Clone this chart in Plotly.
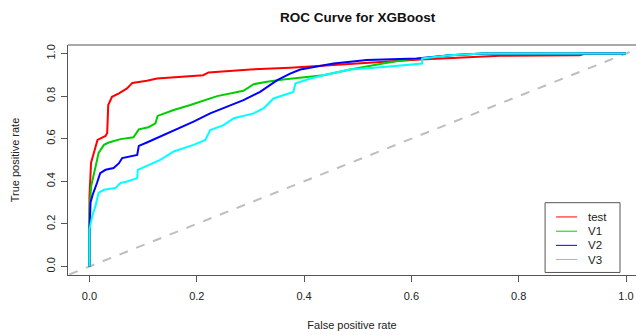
import plotly.graph_objects as go

# ROC curves (FPR, TPR)
test_fpr = [0, 0, 0.003, 0.008, 0.013, 0.015, 0.030, 0.033, 0.035, 0.042, 0.055, 0.070, 0.080, 0.107, 0.126,
            0.212, 0.222, 0.300, 0.374, 0.449, 0.616, 0.765, 0.914, 0.924, 1.0]
test_tpr = [0, 0.328, 0.487, 0.533, 0.580, 0.594, 0.613, 0.627, 0.758, 0.797, 0.813, 0.836, 0.862, 0.872, 0.883,
            0.898, 0.911, 0.925, 0.933, 0.945, 0.972, 0.989, 0.992, 1.0, 1.0]

v1_fpr = [0, 0, 0.003, 0.008, 0.013, 0.017, 0.027, 0.036, 0.058, 0.082, 0.092, 0.110, 0.123, 0.127, 0.157,
          0.188, 0.219, 0.238, 0.287, 0.306, 0.331, 0.361, 0.436, 0.486, 0.547, 0.592, 0.620, 0.672, 0.734, 1.0]
v1_tpr = [0, 0.253, 0.376, 0.440, 0.487, 0.533, 0.571, 0.582, 0.598, 0.607, 0.644, 0.654, 0.672, 0.707, 0.735,
          0.758, 0.785, 0.800, 0.825, 0.856, 0.867, 0.878, 0.898, 0.925, 0.953, 0.972, 0.977, 0.992, 1.0, 1.0]

v2_fpr = [0, 0, 0.002, 0.006, 0.014, 0.020, 0.030, 0.045, 0.055, 0.061, 0.089, 0.092, 0.107, 0.132, 0.157,
          0.194, 0.225, 0.256, 0.287, 0.318, 0.350, 0.374, 0.393, 0.455, 0.517, 0.610, 0.672, 0.734, 1.0]
v2_tpr = [0, 0.159, 0.300, 0.337, 0.392, 0.438, 0.454, 0.462, 0.485, 0.509, 0.524, 0.566, 0.582, 0.610, 0.641,
          0.680, 0.719, 0.750, 0.781, 0.820, 0.875, 0.906, 0.925, 0.953, 0.969, 0.977, 0.992, 1.0, 1.0]

v3_fpr = [0, 0, 0.005, 0.011, 0.017, 0.027, 0.048, 0.058, 0.070, 0.089, 0.090, 0.107, 0.132, 0.157, 0.194,
          0.216, 0.225, 0.250, 0.269, 0.306, 0.325, 0.343, 0.368, 0.380, 0.384, 0.412, 0.436, 0.486, 0.548,
          0.620, 0.620, 0.672, 0.734, 1.0]
v3_tpr = [0, 0.173, 0.235, 0.282, 0.345, 0.360, 0.368, 0.392, 0.399, 0.415, 0.454, 0.473, 0.501, 0.540, 0.571,
          0.594, 0.641, 0.664, 0.696, 0.719, 0.743, 0.789, 0.810, 0.820, 0.860, 0.883, 0.898, 0.925, 0.937,
          0.953, 0.977, 0.992, 1.0, 1.0]

series_names = ["test", "V1", "V2", "V3"]
series_colors = ["#FF0000", "#00CD00", "#0000FF", "#00FFFF"]
x_ticks = [0, 0.2, 0.4, 0.6, 0.8, 1.0]
y_ticks = [0, 0.2, 0.4, 0.6, 0.8, 1.0]

W, H = 636, 335
FONT = "Liberation Sans, Arial, sans-serif"
AX = "#555555"

left, top, bottom = 67.5, 44.8, 275.5
x0_px, x_scale = 89.0, 537.0
y0_px, y_scale = 267.0, 213.7
x_max = (W - x0_px) / x_scale


def px_x(p):
    return (p - x0_px) / x_scale


def px_y(p):
    return (y0_px - p) / y_scale


fig = go.Figure()

# diagonal reference line
fig.add_trace(go.Scatter(x=[-0.1, 1.1], y=[-0.1, 1.1], mode="lines",
                         line=dict(color="#BEBEBE", width=2, dash="dash"),
                         showlegend=False, hoverinfo="skip"))

data = [(test_fpr, test_tpr), (v1_fpr, v1_tpr), (v2_fpr, v2_tpr), (v3_fpr, v3_tpr)]
for (fx, ty), name, col in zip(data, series_names, series_colors):
    fig.add_trace(go.Scatter(x=fx, y=ty, mode="lines", name=name,
                             line=dict(color=col, width=2), showlegend=False))

# hand-drawn legend box (bottom right, like R's legend())
shapes = [dict(type="line", xref="paper", yref="paper", x0=0, x1=1, y0=1, y1=1,
               line=dict(color=AX, width=1)),
          dict(type="rect", xref="x", yref="y", x0=px_x(545), x1=px_x(620), y0=px_y(203), y1=px_y(273),
               line=dict(color=AX, width=1), fillcolor="white", layer="above")]
annotations = []
row_y = [217.3, 231.6, 245.8, 260.0]
for name, col, ry in zip(series_names, series_colors, row_y):
    shapes.append(dict(type="line", xref="x", yref="y", x0=px_x(556), x1=px_x(577), y0=px_y(ry), y1=px_y(ry),
                       line=dict(color=col, width=1), layer="above"))
    annotations.append(dict(text=name, xref="x", yref="y", x=px_x(586), y=px_y(ry), xanchor="left",
                            yanchor="middle", showarrow=False, font=dict(size=11.5, color="#222222")))

fig.update_layout(
    width=W, height=H,
    margin=dict(l=left, r=0, t=top, b=H - bottom, autoexpand=False),
    plot_bgcolor="white", paper_bgcolor="white",
    font=dict(family=FONT, size=11, color="#222222"),
    showlegend=False,
    title=dict(text="<b>ROC Curve for XGBoost</b>", x=357.7 / W, xref="container", xanchor="center",
               y=1 - 17.5 / H, yref="container", yanchor="middle",
               font=dict(family=FONT, size=13.5, color="#111111")),
    xaxis=dict(range=[-0.04, x_max], tickvals=x_ticks, tickformat=".1f", automargin=False,
               showgrid=False, zeroline=False, showline=True, linecolor=AX, linewidth=1,
               ticks="outside", ticklen=6, tickcolor=AX, tickwidth=1, ticklabelstandoff=5,
               title=dict(text="False positive rate", standoff=20, font=dict(size=11))),
    yaxis=dict(range=[-0.04, 1.04], tickvals=y_ticks, tickformat=".1f", tickangle=-90, automargin=False,
               showgrid=False, zeroline=False, showline=True, linecolor=AX, linewidth=1,
               ticks="outside", ticklen=6, tickcolor=AX, tickwidth=1, ticklabelstandoff=2,
               title=dict(text="True positive rate", standoff=22, font=dict(size=11))),
    shapes=shapes,
    annotations=annotations,
)

fig.write_html("out.html", config={"displayModeBar": False},
               post_script="document.body.style.margin='0';document.body.style.overflow='hidden';")
